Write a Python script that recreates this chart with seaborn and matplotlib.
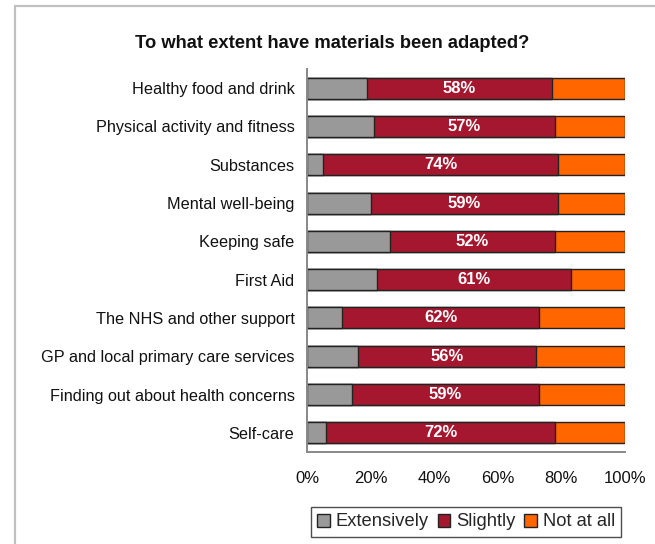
import matplotlib
matplotlib.use("Agg")
import matplotlib.pyplot as plt
from matplotlib.patches import Rectangle, Patch
import seaborn as sns
import pandas as pd
import numpy as np

categories = [
    "Healthy food and drink",
    "Physical activity and fitness",
    "Substances",
    "Mental well-being",
    "Keeping safe",
    "First Aid",
    "The NHS and other support",
    "GP and local primary care services",
    "Finding out about health concerns",
    "Self-care",
]
extensively = [19, 21, 5, 20, 26, 22, 11, 16, 14, 6]
slightly = [58, 57, 74, 59, 52, 61, 62, 56, 59, 72]
not_at_all = [23, 22, 21, 21, 22, 17, 27, 28, 27, 22]

series_names = ["Extensively", "Slightly", "Not at all"]
series_colors = ["#999999", "#A5172F", "#FF6600"]
tick_labels = ["0%", "20%", "40%", "60%", "80%", "100%"]

df = pd.DataFrame({
    "category": categories,
    "Extensively": extensively,
    "Slightly": slightly,
    "Not at all": not_at_all,
})
df["cum1"] = df["Extensively"]
df["cum2"] = df["Extensively"] + df["Slightly"]
df["cum3"] = df["cum2"] + df["Not at all"]

sns.set_theme(style="white")
plt.rcParams["font.family"] = ["Liberation Sans", "DejaVu Sans"]

fig = plt.figure(figsize=(6.55, 5.44), dpi=100)
ax = fig.add_axes([307 / 655, 1 - 452 / 544, 318 / 655, (452 - 69) / 544])

# stacked bars: draw the cumulative totals back to front
for col, color in zip(["cum3", "cum2", "cum1"], series_colors[::-1]):
    sns.barplot(data=df, x=col, y="category", order=categories, color=color,
                orient="h", width=0.55, edgecolor="#222222", linewidth=1.0,
                saturation=1, ax=ax)

# value labels centred on the "Slightly" segment
for i, (e, s) in enumerate(zip(extensively, slightly)):
    ax.text(e + s / 2, i, f"{s}%", ha="center", va="center", color="white",
            fontsize=12, fontweight="bold")

ax.set_xlim(0, 100)
ax.set_ylim(9.5, -0.5)
ax.set_xticks(np.linspace(0, 100, len(tick_labels)))
ax.set_xticklabels(tick_labels, fontsize=12, color="#111111")
ax.tick_params(axis="x", direction="out", length=5, width=1, color="#777777", pad=9)
ax.tick_params(axis="y", length=0, pad=9, labelsize=11.7, labelcolor="#111111")
ax.set_xlabel("")
ax.set_ylabel("")
for side in ["top", "right"]:
    ax.spines[side].set_visible(False)
for side in ["left", "bottom"]:
    ax.spines[side].set_color("#888888")
    ax.spines[side].set_linewidth(1.4)

fig.text(332 / 655, 1 - 43 / 544, "To what extent have materials been adapted?",
         ha="center", va="center", fontsize=13.2, fontweight="bold", color="#111111")

handles = [Patch(facecolor=c, edgecolor="#222222", linewidth=1.0) for c in series_colors]
leg = fig.legend(handles, series_names, loc="center", bbox_to_anchor=(466 / 655, 1 - 522 / 544),
                 ncol=3, fontsize=13.2, frameon=True, fancybox=False,
                 handlelength=0.7, handleheight=0.7, handletextpad=0.3,
                 columnspacing=0.5, borderpad=0.35, borderaxespad=0)
leg.get_frame().set_edgecolor("#222222")
leg.get_frame().set_linewidth(1.0)

# outer chart frame
fig.patches.append(Rectangle((15 / 655, -0.2), 1.2, 1 - 6 / 544 + 0.2,
                             transform=fig.transFigure, fill=False,
                             edgecolor="#c0c0c0", linewidth=1.6, clip_on=False))

fig.savefig("out.png", dpi=100)
